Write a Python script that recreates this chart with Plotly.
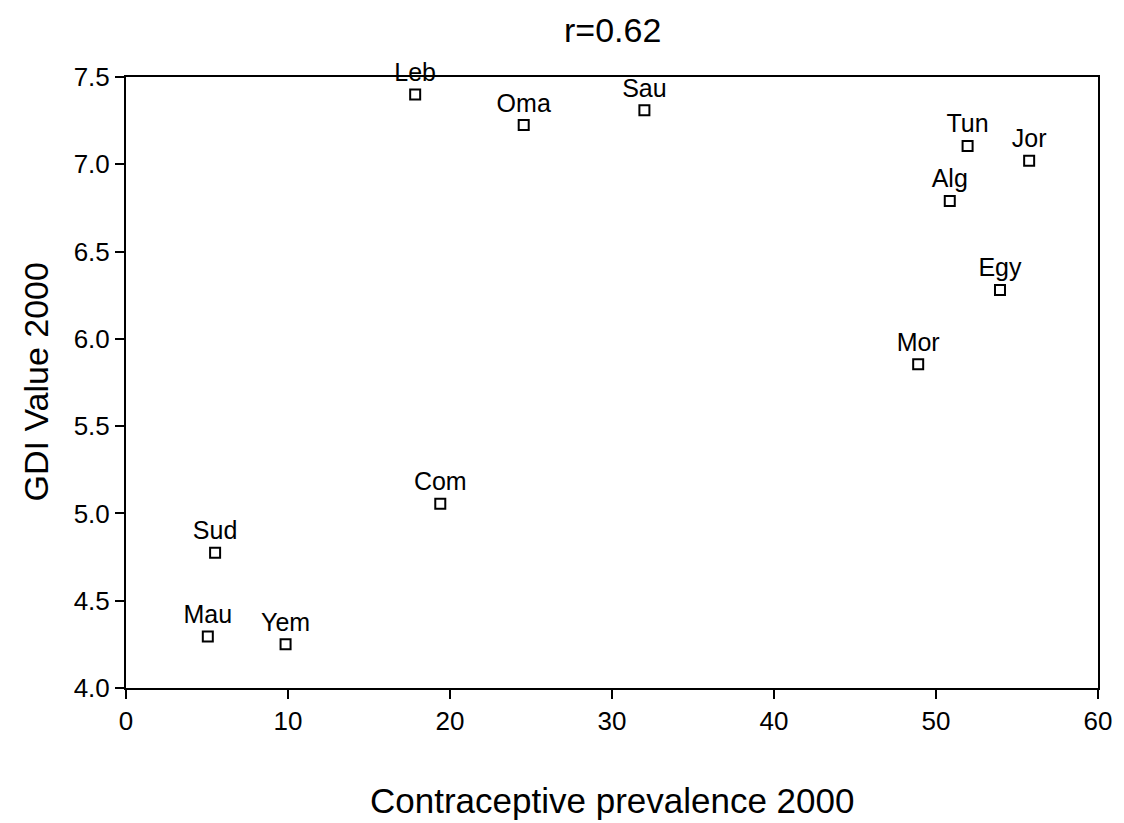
import plotly.graph_objects as go

countries = ["Leb", "Oma", "Sau", "Tun", "Jor", "Alg", "Egy", "Mor", "Com", "Sud", "Mau", "Yem"]
contraceptive = [17.85, 24.55, 32.0, 51.95, 55.75, 50.85, 53.95, 48.9, 19.4, 5.5, 5.05, 9.85]
gdi = [7.40, 7.225, 7.31, 7.105, 7.02, 6.79, 6.28, 5.855, 5.055, 4.775, 4.295, 4.25]

x_ticks = [0, 10, 20, 30, 40, 50, 60]
y_ticks = [4.0, 4.5, 5.0, 5.5, 6.0, 6.5, 7.0, 7.5]

FONT = "Liberation Sans, Arial, Helvetica, sans-serif"

fig = go.Figure()
fig.add_trace(go.Scatter(
    x=contraceptive, y=gdi, text=countries,
    mode="markers+text", textposition="top center",
    textfont=dict(family=FONT, size=25, color="black"),
    marker=dict(symbol="square-open", size=10, color="black", line=dict(width=2, color="black")),
    cliponaxis=False, showlegend=False,
))

fig.update_layout(
    width=1124, height=823,
    margin=dict(l=126, r=23, t=77, b=135),
    paper_bgcolor="white", plot_bgcolor="white",
    font=dict(family=FONT, color="black"),
    xaxis=dict(range=[0, 60], tickvals=x_ticks, ticktext=[str(v) for v in x_ticks],
               showgrid=False, zeroline=False, showline=True, linecolor="black", linewidth=2,
               mirror=True, ticks="outside", ticklen=9, tickwidth=2, tickcolor="black",
               tickfont=dict(size=26, family=FONT)),
    yaxis=dict(range=[4.0, 7.5], tickvals=y_ticks, ticktext=[f"{v:.1f}" for v in y_ticks],
               showgrid=False, zeroline=False, showline=True, linecolor="black", linewidth=2,
               mirror=True, ticks="outside", ticklen=9, tickwidth=2, tickcolor="black",
               tickfont=dict(size=26, family=FONT)),
    annotations=[
        dict(text="r=0.62", xref="paper", yref="paper", x=0.5, y=1, yshift=47,
             showarrow=False, font=dict(size=34, family=FONT), xanchor="center", yanchor="middle"),
        dict(text="Contraceptive prevalence 2000", xref="paper", yref="paper", x=0.5, y=0,
             yshift=-112, showarrow=False, font=dict(size=35, family=FONT),
             xanchor="center", yanchor="middle"),
        dict(text="GDI Value 2000", xref="paper", yref="paper", x=0, y=0.5, xshift=-91,
             textangle=-90, showarrow=False, font=dict(size=34, family=FONT),
             xanchor="center", yanchor="middle"),
    ],
)

fig.write_html("out.html")
